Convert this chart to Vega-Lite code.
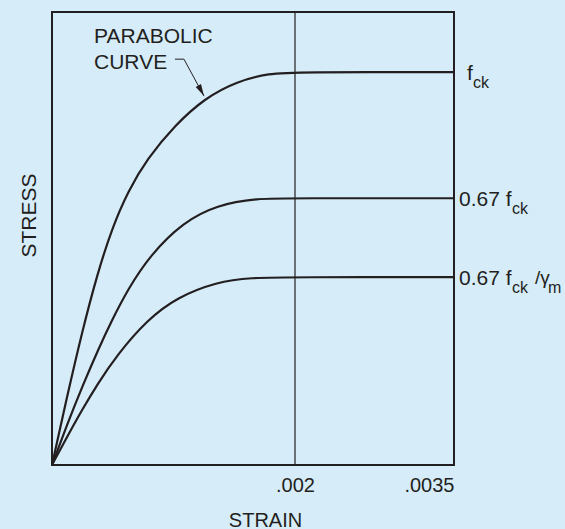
{
  "$schema": "https://vega.github.io/schema/vega-lite/v6.json",
  "width": 402,
  "height": 453,
  "autosize": {"type": "none"},
  "padding": {"left": 52, "top": 12, "right": 111, "bottom": 64},
  "background": "#d6ecf9",
  "config": {
    "font": "Liberation Sans",
    "view": {"stroke": "#231f20", "strokeWidth": 2},
    "axis": {"labelColor": "#231f20", "titleColor": "#231f20", "titleFontWeight": "normal"}
  },
  "datasets": {
    "curves": [
      {"series": "fck", "strain": 0, "stress": 0},
      {"series": "fck", "strain": 0.000123, "stress": 0.173},
      {"series": "fck", "strain": 0.000247, "stress": 0.338},
      {"series": "fck", "strain": 0.00037, "stress": 0.483},
      {"series": "fck", "strain": 0.000494, "stress": 0.603},
      {"series": "fck", "strain": 0.000626, "stress": 0.697},
      {"series": "fck", "strain": 0.000782, "stress": 0.779},
      {"series": "fck", "strain": 0.001012, "stress": 0.865},
      {"series": "fck", "strain": 0.001259, "stress": 0.934},
      {"series": "fck", "strain": 0.001523, "stress": 0.977},
      {"series": "fck", "strain": 0.001794, "stress": 0.997},
      {"series": "fck", "strain": 0.002, "stress": 1.0},
      {"series": "fck", "strain": 0.0035, "stress": 1.0},
      {"series": "067fck", "strain": 0, "stress": 0},
      {"series": "067fck", "strain": 0.000123, "stress": 0.102},
      {"series": "067fck", "strain": 0.000255, "stress": 0.204},
      {"series": "067fck", "strain": 0.000379, "stress": 0.293},
      {"series": "067fck", "strain": 0.000494, "stress": 0.369},
      {"series": "067fck", "strain": 0.000626, "stress": 0.448},
      {"series": "067fck", "strain": 0.000807, "stress": 0.534},
      {"series": "067fck", "strain": 0.001078, "stress": 0.618},
      {"series": "067fck", "strain": 0.001358, "stress": 0.662},
      {"series": "067fck", "strain": 0.001687, "stress": 0.679},
      {"series": "067fck", "strain": 0.002, "stress": 0.679},
      {"series": "067fck", "strain": 0.0035, "stress": 0.679},
      {"series": "067fckgm", "strain": 0, "stress": 0},
      {"series": "067fckgm", "strain": 0.000123, "stress": 0.071},
      {"series": "067fckgm", "strain": 0.000247, "stress": 0.14},
      {"series": "067fckgm", "strain": 0.00037, "stress": 0.204},
      {"series": "067fckgm", "strain": 0.000535, "stress": 0.28},
      {"series": "067fckgm", "strain": 0.000782, "stress": 0.369},
      {"series": "067fckgm", "strain": 0.001029, "stress": 0.427},
      {"series": "067fckgm", "strain": 0.001358, "stress": 0.466},
      {"series": "067fckgm", "strain": 0.00163, "stress": 0.477},
      {"series": "067fckgm", "strain": 0.002, "stress": 0.478},
      {"series": "067fckgm", "strain": 0.0035, "stress": 0.478}
    ],
    "leader": [
      {"i": 0, "strain": 0.001012, "stress": 1.033},
      {"i": 1, "strain": 0.001086, "stress": 1.033},
      {"i": 2, "strain": 0.001251, "stress": 0.939}
    ]
  },
  "layer": [
    {
      "data": {"values": [{"strain": 0.002}]},
      "mark": {"type": "rule", "color": "#231f20", "strokeWidth": 1.2},
      "encoding": {
        "x": {"field": "strain", "type": "quantitative",
          "scale": {"domain": [0, 0.002, 0.0035], "range": [0, 243, 402], "nice": false, "zero": false},
          "axis": {"values": [0.002, 0.0035], "labelExpr": "substring(format(datum.value, '.4~f'), 1)",
            "ticks": false, "domain": false, "grid": false, "labelFontSize": 20, "labelPadding": 10,
            "title": "STRAIN", "titleFontSize": 20, "titleX": 213, "titleY": 61, "titleBaseline": "alphabetic", "titleAnchor": null, "titleAlign": "center"}}
      }
    },
    {
      "data": {"name": "curves"},
      "mark": {"type": "line", "color": "#231f20", "strokeWidth": 2.2, "interpolate": "basis"},
      "encoding": {
        "x": {"field": "strain", "type": "quantitative"},
        "y": {"field": "stress", "type": "quantitative",
          "scale": {"domain": [0, 1.153], "nice": false},
          "axis": {"labels": false, "ticks": false, "domain": false, "grid": false,
            "title": "STRESS", "titleFontSize": 21, "titleAngle": 270, "titleX": -17, "titleY": 203,
            "titleBaseline": "alphabetic", "titleAlign": "center", "titleAnchor": null}},
        "detail": {"field": "series"}
      }
    },
    {
      "data": {"name": "leader"},
      "mark": {"type": "line", "color": "#231f20", "strokeWidth": 1},
      "encoding": {
        "x": {"field": "strain", "type": "quantitative"},
        "y": {"field": "stress", "type": "quantitative"},
        "order": {"field": "i"}
      }
    },
    {
      "data": {"values": [{"strain": 0.001251, "stress": 0.939}]},
      "mark": {"type": "point", "shape": "M0,0L-0.25,-1L0.25,-1Z", "filled": true, "color": "#231f20", "opacity": 1, "size": 576, "angle": 332},
      "encoding": {
        "x": {"field": "strain", "type": "quantitative"},
        "y": {"field": "stress", "type": "quantitative"}
      }
    },
    {
      "data": {"values": [
        {"strain": 0.000346, "stress": 1.074, "label": "PARABOLIC"},
        {"strain": 0.000346, "stress": 1.008, "label": "CURVE"}
      ]},
      "mark": {"type": "text", "align": "left", "baseline": "alphabetic", "fontSize": 21, "color": "#231f20"},
      "encoding": {
        "x": {"field": "strain", "type": "quantitative"},
        "y": {"field": "stress", "type": "quantitative"},
        "text": {"field": "label"}
      }
    },
    {
      "data": {"values": [{"strain": 0.0035, "stress": 1.0, "label": "f"}]},
      "mark": {"type": "text", "align": "left", "baseline": "alphabetic", "fontSize": 21, "dx": 13, "dy": 8, "color": "#231f20"},
      "encoding": {
        "x": {"field": "strain", "type": "quantitative"},
        "y": {"field": "stress", "type": "quantitative"},
        "text": {"field": "label"}
      }
    },
    {
      "data": {"values": [{"strain": 0.0035, "stress": 1.0, "label": "ck"}]},
      "mark": {"type": "text", "align": "left", "baseline": "alphabetic", "fontSize": 16, "dx": 19, "dy": 16, "color": "#231f20"},
      "encoding": {
        "x": {"field": "strain", "type": "quantitative"},
        "y": {"field": "stress", "type": "quantitative"},
        "text": {"field": "label"}
      }
    },
    {
      "data": {"values": [
        {"strain": 0.0035, "stress": 0.679, "label": "0.67 f"},
        {"strain": 0.0035, "stress": 0.478, "label": "0.67 f"}
      ]},
      "mark": {"type": "text", "align": "left", "baseline": "alphabetic", "fontSize": 21, "dx": 5, "dy": 8, "color": "#231f20"},
      "encoding": {
        "x": {"field": "strain", "type": "quantitative"},
        "y": {"field": "stress", "type": "quantitative"},
        "text": {"field": "label"}
      }
    },
    {
      "data": {"values": [
        {"strain": 0.0035, "stress": 0.679, "label": "ck"},
        {"strain": 0.0035, "stress": 0.478, "label": "ck"}
      ]},
      "mark": {"type": "text", "align": "left", "baseline": "alphabetic", "fontSize": 16, "dx": 58, "dy": 16, "color": "#231f20"},
      "encoding": {
        "x": {"field": "strain", "type": "quantitative"},
        "y": {"field": "stress", "type": "quantitative"},
        "text": {"field": "label"}
      }
    },
    {
      "data": {"values": [{"strain": 0.0035, "stress": 0.478, "label": "/γ"}]},
      "mark": {"type": "text", "align": "left", "baseline": "alphabetic", "fontSize": 19, "dx": 81, "dy": 7, "color": "#231f20"},
      "encoding": {
        "x": {"field": "strain", "type": "quantitative"},
        "y": {"field": "stress", "type": "quantitative"},
        "text": {"field": "label"}
      }
    },
    {
      "data": {"values": [{"strain": 0.0035, "stress": 0.478, "label": "m"}]},
      "mark": {"type": "text", "align": "left", "baseline": "alphabetic", "fontSize": 16, "dx": 94, "dy": 16, "color": "#231f20"},
      "encoding": {
        "x": {"field": "strain", "type": "quantitative"},
        "y": {"field": "stress", "type": "quantitative"},
        "text": {"field": "label"}
      }
    }
  ]
}
